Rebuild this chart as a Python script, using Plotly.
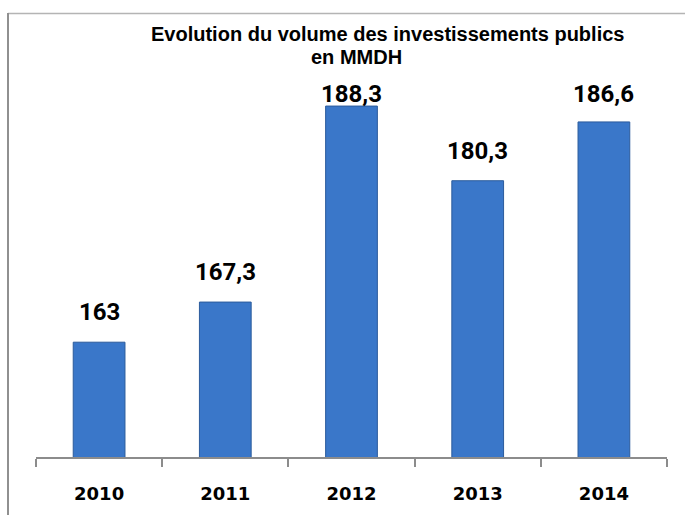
"""Evolution du volume des investissements publics (MMDH), 2010-2014."""

import plotly.graph_objects as go

# ── Data ─────────────────────────────────────────────────────────────────────
YEARS = ["2010", "2011", "2012", "2013", "2014"]
VALUES = [163, 167.3, 188.3, 180.3, 186.6]
LABELS = ["163", "167,3", "188,3", "180,3", "186,6"]

TITLE_1 = "Evolution du volume des investissements publics"
TITLE_2 = "en MMDH"

# ── Geometry (pixels) ────────────────────────────────────────────────────────
W, H = 685, 515
ML, MR, MT, MB = 36, 18, 37, 58
PW, PH = W - ML - MR, H - MT - MB
Y_RANGE = [150.7, 195.7]
LABEL_TOP_MIN = 85  # labels are clamped so they don't climb into the title


def px(x):
    return (x - ML) / PW


def py(y):
    return (H - MB - y) / PH


fig = go.Figure()
fig.add_trace(go.Bar(
    x=YEARS, y=VALUES,
    marker=dict(color="#3a77c9", line=dict(color="#2b5b9c", width=1)),
    hoverinfo="x+y", showlegend=False,
))

# value labels above the bars (category index, since "2010" would read as a number)
for i, (v, lab) in enumerate(zip(VALUES, LABELS)):
    bar_top = H - MB - (v - Y_RANGE[0]) * PH / (Y_RANGE[1] - Y_RANGE[0])
    shift = 14 - max(0, LABEL_TOP_MIN - (bar_top - 39))
    fig.add_annotation(x=i, y=v, text=f"<b>{lab}</b>", showarrow=False, yanchor="bottom", yshift=shift,
                       font=dict(family="Roboto", size=24, color="#000000"))

# two-line title
fig.add_annotation(xref="paper", yref="paper", x=px(387), y=py(43), yanchor="bottom", yshift=-4,
                   text=f"<b>{TITLE_1}</b>", showarrow=False,
                   font=dict(family="Liberation Sans", size=20, color="#000000"))
fig.add_annotation(xref="paper", yref="paper", x=px(356), y=py(66), yanchor="bottom", yshift=-4,
                   text=f"<b>{TITLE_2}</b>", showarrow=False,
                   font=dict(family="Liberation Sans", size=20, color="#000000"))

# outer frame (top and left edges visible)
fig.add_shape(type="line", xref="paper", yref="paper", x0=px(8), x1=px(W), y0=py(13.5), y1=py(13.5),
              line=dict(color="#b4b4b4", width=1.5))
fig.add_shape(type="line", xref="paper", yref="paper", x0=px(8), x1=px(8), y0=py(13), y1=py(H),
              line=dict(color="#909090", width=2))

fig.update_layout(
    width=W, height=H, autosize=False,
    margin=dict(l=ML, r=MR, t=MT, b=MB),
    paper_bgcolor="#ffffff", plot_bgcolor="#ffffff",
    bargap=0.59,
    xaxis=dict(type="category", showgrid=False, showline=True, linecolor="#8c8c8c", linewidth=1.5,
               ticks="outside", tickson="boundaries", ticklen=8, tickcolor="#8c8c8c", tickwidth=1.5,
               tickfont=dict(family="DejaVu Sans", size=18, color="#000000", weight="bold"),
               ticklabelstandoff=20, range=[-0.5, 4.5]),
    yaxis=dict(visible=False, range=Y_RANGE, showgrid=False),
)

fig.write_html("out.html", post_script="document.body.style.margin='0';",
               config={"displayModeBar": False})
